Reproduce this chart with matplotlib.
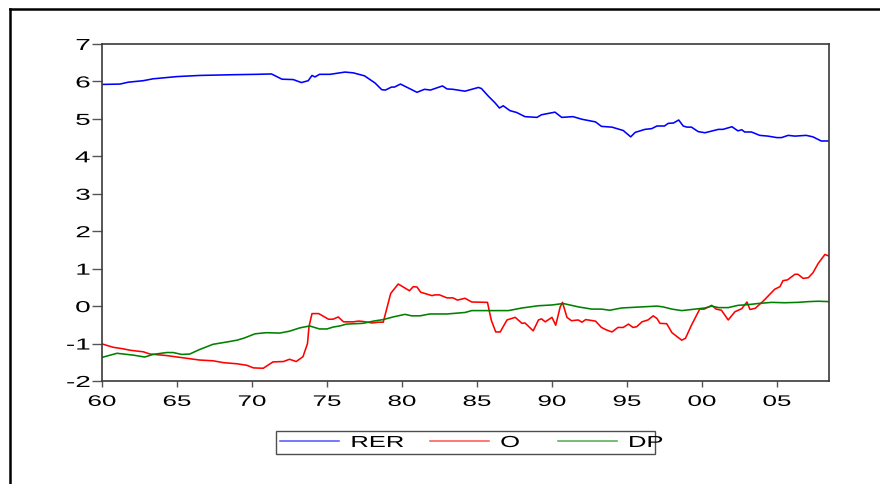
import matplotlib
matplotlib.use("Agg")
import matplotlib.pyplot as plt
import matplotlib.patheffects as pe
from matplotlib.transforms import Affine2D
from matplotlib.lines import Line2D

# series read as (year, value) vertices
rer_t = [1960.0, 1961.2, 1961.75, 1962.75, 1963.4, 1965.0, 1966.5, 1968.75, 1970.3, 1971.3,
         1972.0, 1972.75, 1973.3, 1973.75, 1974.0, 1974.2, 1974.5, 1975.2, 1976.2, 1976.75,
         1977.5, 1978.2, 1978.65, 1978.9, 1979.3, 1979.5, 1979.9, 1981.0, 1981.5, 1981.9,
         1982.7, 1983.0, 1983.4, 1984.2, 1984.65, 1985.1, 1985.3, 1985.75, 1986.2, 1986.5,
         1986.75, 1987.2, 1987.65, 1988.2, 1989.0, 1989.3, 1990.2, 1990.65, 1991.4, 1992.0,
         1992.9, 1993.3, 1994.0, 1994.75, 1995.25, 1995.55, 1996.2, 1996.65, 1997.0, 1997.5,
         1997.75, 1998.1, 1998.45, 1998.75, 1999.0, 1999.3, 1999.75, 2000.2, 2001.1, 2001.4,
         2002.0, 2002.4, 2002.65, 2002.85, 2003.3, 2003.85, 2004.4, 2005.0, 2005.3, 2005.75,
         2006.2, 2006.95, 2007.4, 2007.95, 2008.45]
rer_v = [5.92, 5.93, 5.98, 6.02, 6.07, 6.13, 6.16, 6.18, 6.19, 6.20,
         6.06, 6.05, 5.97, 6.02, 6.16, 6.12, 6.19, 6.19, 6.25, 6.23,
         6.15, 5.96, 5.78, 5.77, 5.85, 5.85, 5.93, 5.71, 5.79, 5.77,
         5.88, 5.80, 5.79, 5.74, 5.79, 5.84, 5.81, 5.61, 5.43, 5.29,
         5.35, 5.22, 5.17, 5.06, 5.04, 5.11, 5.18, 5.04, 5.06, 4.99,
         4.92, 4.80, 4.78, 4.69, 4.52, 4.64, 4.72, 4.74, 4.81, 4.81,
         4.88, 4.89, 4.97, 4.81, 4.78, 4.78, 4.66, 4.63, 4.72, 4.72,
         4.79, 4.68, 4.71, 4.65, 4.65, 4.56, 4.54, 4.50, 4.50, 4.56,
         4.54, 4.56, 4.52, 4.41, 4.41]

o_t = [1960.0, 1960.75, 1961.4, 1961.9, 1962.75, 1963.2, 1964.3, 1965.4, 1966.5, 1967.4,
       1968.1, 1969.0, 1969.65, 1970.1, 1970.75, 1971.4, 1972.1, 1972.5, 1972.95, 1973.4,
       1973.7, 1973.8, 1974.0, 1974.45, 1975.1, 1975.4, 1975.75, 1976.1, 1976.75, 1977.1,
       1977.4, 1978.0, 1978.4, 1978.75, 1979.25, 1979.75, 1980.5, 1980.75, 1981.0, 1981.25,
       1982.0, 1982.2, 1982.5, 1983.0, 1983.4, 1983.7, 1984.0, 1984.2, 1984.65, 1985.7,
       1985.95, 1986.25, 1986.55, 1987.0, 1987.55, 1988.0, 1988.2, 1988.75, 1989.1, 1989.3,
       1989.55, 1990.0, 1990.25, 1990.55, 1990.7, 1991.0, 1991.3, 1991.75, 1992.0, 1992.25,
       1992.9, 1993.3, 1993.65, 1994.0, 1994.4, 1994.75, 1995.1, 1995.4, 1995.65, 1996.0,
       1996.4, 1996.75, 1997.0, 1997.2, 1997.65, 1998.0, 1998.65, 1998.9, 1999.3, 1999.85,
       2000.15, 2000.65, 2000.95, 2001.3, 2001.75, 2002.2, 2002.65, 2003.0, 2003.2, 2003.55,
       2004.1, 2004.85, 2005.2, 2005.4, 2005.7, 2006.2, 2006.4, 2006.75, 2007.1, 2007.4,
       2007.75, 2008.2, 2008.45]
o_v = [-1.01, -1.10, -1.14, -1.18, -1.22, -1.28, -1.32, -1.38, -1.44, -1.46,
       -1.51, -1.54, -1.58, -1.65, -1.66, -1.49, -1.48, -1.42, -1.48, -1.35,
       -1.00, -0.55, -0.20, -0.20, -0.35, -0.35, -0.29, -0.42, -0.42, -0.40,
       -0.41, -0.45, -0.43, -0.43, 0.34, 0.59, 0.41, 0.52, 0.51, 0.37,
       0.28, 0.30, 0.30, 0.22, 0.22, 0.16, 0.19, 0.21, 0.11, 0.10,
       -0.37, -0.69, -0.69, -0.37, -0.30, -0.46, -0.45, -0.66, -0.37, -0.34,
       -0.42, -0.30, -0.51, -0.02, 0.10, -0.30, -0.39, -0.37, -0.43, -0.36,
       -0.40, -0.57, -0.64, -0.69, -0.57, -0.57, -0.48, -0.57, -0.55, -0.42,
       -0.37, -0.26, -0.33, -0.46, -0.47, -0.71, -0.91, -0.86, -0.51, -0.08,
       -0.08, 0.02, -0.08, -0.11, -0.37, -0.15, -0.07, 0.11, -0.09, -0.06,
       0.14, 0.45, 0.52, 0.68, 0.70, 0.85, 0.85, 0.74, 0.76, 0.89,
       1.14, 1.38, 1.34]

dp_t = [1960.0, 1961.0, 1962.1, 1962.85, 1963.4, 1964.3, 1964.75, 1965.3, 1965.85, 1966.5,
        1967.4, 1968.3, 1969.0, 1969.5, 1970.2, 1970.95, 1971.85, 1972.5, 1973.2, 1973.85,
        1974.5, 1975.0, 1975.4, 1975.85, 1976.3, 1977.4, 1978.1, 1978.75, 1979.4, 1980.2,
        1980.65, 1981.2, 1981.85, 1983.0, 1984.2, 1984.65, 1985.5, 1987.1, 1988.0, 1989.1,
        1990.0, 1990.75, 1991.75, 1992.65, 1993.3, 1993.85, 1994.65, 1995.55, 1997.0, 1997.4,
        1998.0, 1998.65, 1999.55, 2000.2, 2000.65, 2001.1, 2001.75, 2002.4, 2003.1, 2003.75,
        2004.65, 2005.5, 2006.4, 2007.1, 2007.75, 2008.45]
dp_v = [-1.37, -1.26, -1.31, -1.36, -1.29, -1.24, -1.24, -1.29, -1.28, -1.16,
        -1.02, -0.96, -0.91, -0.85, -0.74, -0.71, -0.72, -0.67, -0.58, -0.53,
        -0.61, -0.61, -0.56, -0.53, -0.48, -0.46, -0.40, -0.36, -0.29, -0.22,
        -0.26, -0.26, -0.21, -0.21, -0.17, -0.12, -0.12, -0.12, -0.05, 0.01,
        0.03, 0.07, -0.02, -0.08, -0.08, -0.11, -0.05, -0.03, 0.00, -0.02,
        -0.08, -0.12, -0.08, -0.05, 0.00, -0.04, -0.04, 0.02, 0.04, 0.07,
        0.10, 0.09, 0.10, 0.12, 0.13, 0.12]

year_ticks = list(range(1960, 2010, 5))
year_labels = [f"{y % 100:02d}" for y in year_ticks]
value_ticks = list(range(-2, 8))

plt.rcParams['font.family'] = ['Liberation Sans', 'DejaVu Sans']


class Stretch(pe.AbstractPathEffect):
    """Widen glyphs horizontally about the left/center/right of the string."""

    def __init__(self, sx, anchor='left'):
        super().__init__()
        self.sx = sx
        self.anchor = anchor

    def draw_path(self, renderer, gc, tpath, affine, rgbFace=None):
        ext = tpath.get_extents()
        x0 = {'left': ext.x0, 'center': 0.5 * (ext.x0 + ext.x1), 'right': ext.x1}[self.anchor]
        tr = Affine2D().translate(-x0, 0).scale(self.sx, 1.0).translate(x0, 0) + affine
        renderer.draw_path(gc, tpath, tr, rgbFace)


W, H = 880, 484
fig = plt.figure(figsize=(W / 100, H / 100), dpi=100)
ax = fig.add_axes([102 / W, 1 - 381 / H, (829 - 102) / W, (381 - 44) / H])

ax.plot(rer_t, rer_v, color='#0000ff', lw=1.15, label='RER')
ax.plot(o_t, o_v, color='#ff0000', lw=1.15, label='O')
ax.plot(dp_t, dp_v, color='#008000', lw=1.15, label='DP')

ax.set_xlim(1960, 2008.47)
ax.set_ylim(-2, 7)
ax.set_xticks(year_ticks)
ax.set_xticklabels(year_labels)
ax.set_yticks(value_ticks)
ax.set_yticklabels([str(v) for v in value_ticks])

for s in ax.spines.values():
    s.set_color('#3a3a3a')
    s.set_linewidth(1.2)
ax.tick_params(axis='y', direction='out', length=7, width=1, color='#555555', pad=1.5,
               labelsize=11.5)
ax.tick_params(axis='x', direction='out', length=4, width=1, color='#555555', pad=6,
               labelsize=11)

for t in ax.get_yticklabels():
    t.set_path_effects([Stretch(1.75, 'right')])
for t in ax.get_xticklabels():
    t.set_path_effects([Stretch(1.7, 'center')])

leg = fig.legend(loc='center', bbox_to_anchor=(465.5 / W, 1 - 442.5 / H), ncol=3,
                 fontsize=11.5, frameon=True, fancybox=False, handlelength=3.7,
                 handletextpad=0.75, columnspacing=2.8, borderpad=0.25,
                 borderaxespad=0)
leg.get_frame().set_edgecolor('#222222')
leg.get_frame().set_linewidth(1.0)
for t in leg.get_texts():
    t.set_path_effects([Stretch(1.6, 'left')])
for h in leg.get_lines():
    h.set_alpha(0.65)

# outer frame of the graph window
fx, fy = 10 / W, 1 - 8.5 / H
fig.add_artist(Line2D([fx, fx], [0, fy], transform=fig.transFigure, color='black', lw=1.8))
fig.add_artist(Line2D([fx, 1], [fy, fy], transform=fig.transFigure, color='black', lw=1.8))

fig.savefig('out.png', dpi=100)
